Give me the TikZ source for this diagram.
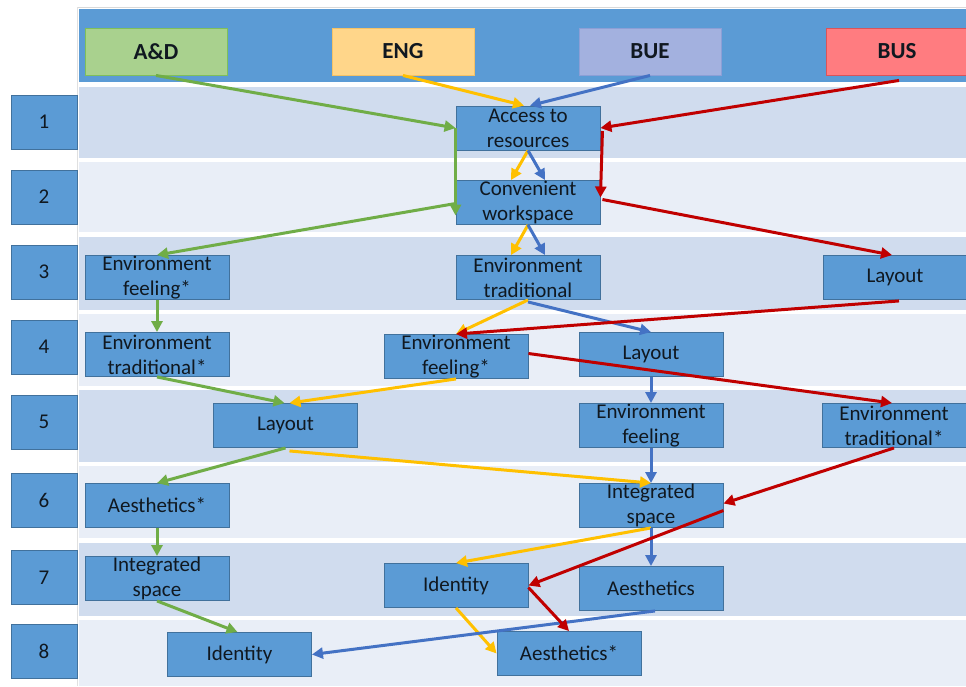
\documentclass[tikz,border=0pt]{standalone}
\usepackage{fontspec}
\setmainfont{Carlito}
\usetikzlibrary{arrows.meta,calc}

\definecolor{nodeblue}{HTML}{5B9BD5}
\definecolor{nodeedge}{HTML}{41719C}
\definecolor{banddark}{HTML}{D0DCEE}
\definecolor{bandlight}{HTML}{E9EEF7}
\definecolor{adfill}{HTML}{A9D18E}
\definecolor{adedge}{HTML}{7FBF5A}
\definecolor{engfill}{HTML}{FFD68A}
\definecolor{engedge}{HTML}{F5C266}
\definecolor{buefill}{HTML}{A3B1DF}
\definecolor{bueedge}{HTML}{8C9FD6}
\definecolor{busfill}{HTML}{FF7C80}
\definecolor{busedge}{HTML}{D9545A}
\definecolor{cgreen}{HTML}{70AD47}
\definecolor{cyellow}{HTML}{FFC000}
\definecolor{cblue}{HTML}{4472C4}
\definecolor{cred}{HTML}{C00000}
\definecolor{inktext}{HTML}{101820}

\tikzset{
  x=1pt, y=-1pt,
  stage/.style={draw=nodeedge, line width=0.9pt, fill=nodeblue, inner sep=0pt,
    minimum width=144pt, minimum height=44pt, align=center,
    font=\fontsize{21}{25}\selectfont, text=inktext},
  rownum/.style={draw=nodeedge, line width=0.9pt, fill=nodeblue, inner sep=0pt,
    minimum width=66pt, minimum height=54pt, font=\fontsize{21}{25}\selectfont,
    text=inktext},
  head/.style={line width=0.9pt, inner sep=0pt, minimum width=142pt,
    minimum height=47pt, font=\fontsize{23}{27}\selectfont\bfseries, text=inktext},
  flow/.style={line width=3pt, -{Triangle[length=11pt,width=11pt]}},
  gflow/.style={flow, draw=cgreen, fill=cgreen},
  yflow/.style={flow, draw=cyellow, fill=cyellow},
  bflow/.style={flow, draw=cblue, fill=cblue},
  rflow/.style={flow, draw=cred, fill=cred},
}

\begin{document}
\begin{tikzpicture}
\useasboundingbox (0,0) rectangle (966,686);
\fill[white] (0,0) rectangle (966,686);

% table frame and header band
\draw[black!15, line width=1pt] (78,7) -- (966,7);
\draw[black!12, line width=1pt] (77.5,7) -- (77.5,686);
\fill[nodeblue] (79,9) rectangle (966,82);

% row bands
\fill[banddark]  (79,87)  rectangle (966,158);
\fill[bandlight] (79,162) rectangle (966,232);
\fill[banddark]  (79,237) rectangle (966,310);
\fill[bandlight] (79,314) rectangle (966,386);
\fill[banddark]  (79,390) rectangle (966,462);
\fill[bandlight] (79,466) rectangle (966,538);
\fill[banddark]  (79,543) rectangle (966,616);
\fill[bandlight] (79,620) rectangle (966,686);

% discipline headers
\node[head, draw=adedge,  fill=adfill]  (hAD)  at (156,51.5) {A\&D};
\node[head, draw=engedge, fill=engfill] (hENG) at (403,51.5) {ENG};
\node[head, draw=bueedge, fill=buefill] (hBUE) at (650,51.5) {BUE};
\node[head, draw=busedge, fill=busfill] (hBUS) at (897,51.5) {BUS};

% stage numbers
\node[rownum] (r1) at (44,122)   {1};
\node[rownum] (r2) at (44,197)   {2};
\node[rownum] (r3) at (44,272)   {3};
\node[rownum] (r4) at (44,347)   {4};
\node[rownum] (r5) at (44,422)   {5};
\node[rownum] (r6) at (44,500)   {6};
\node[rownum] (r7) at (44,577.5) {7};
\node[rownum] (r8) at (44,651)   {8};

% stages
\node[stage] (acc)  at (528,128)   {Access to\\resources};
\node[stage] (conv) at (528,202.5) {Convenient\\workspace};
\node[stage] (efA)  at (157,277.5) {Environment\\feeling*};
\node[stage] (etE)  at (528,277.5) {Environment\\traditional};
\node[stage] (layS) at (895,277.5) {Layout};
\node[stage] (etA)  at (157,354.5) {Environment\\traditional*};
\node[stage] (efE)  at (456,356.5) {Environment\\feeling*};
\node[stage] (layB) at (651,354.5) {Layout};
\node[stage] (layA) at (285.5,425.5) {Layout};
\node[stage] (efB)  at (651,425.5) {Environment\\feeling};
\node[stage] (etS)  at (894,425.5) {Environment\\traditional*};
\node[stage] (aeA)  at (157,505.5) {Aesthetics*};
\node[stage] (isB)  at (651,505.5) {Integrated\\space};
\node[stage] (isA)  at (157,578.5) {Integrated\\space};
\node[stage] (idE)  at (456,585.5) {Identity};
\node[stage] (aeB)  at (651,588.5) {Aesthetics};
\node[stage] (idA)  at (239.5,654.5) {Identity};
\node[stage] (aeE)  at (569,653.5) {Aesthetics*};

% A&D path
\draw[gflow] (hAD.south) -- (acc.west);
\draw[gflow] (acc.west) -- ($(conv.west)+(0,13)$);
\draw[gflow] ($(conv.west)+(0,1)$) -- (efA.north);
\draw[gflow] (efA.south) -- (etA.north);
\draw[gflow] (etA.south) -- ($(layA.north)+(-1,0)$);
\draw[gflow] (layA.south) -- (aeA.north);
\draw[gflow] (aeA.south) -- (isA.north);
\draw[gflow] (isA.south) -- ($(idA.north)+(-2,0)$);

% ENG path
\draw[yflow] (hENG.south) -- ($(acc.north)+(-4,0)$);
\draw[yflow] (acc.south) -- ($(conv.north)+(-17,0)$);
\draw[yflow] (conv.south) -- ($(etE.north)+(-17,0)$);
\draw[yflow] (etE.south) -- (efE.north);
\draw[yflow] (efE.south) -- ($(layA.north)+(4,0)$);
\draw[yflow] ($(layA.south)+(4,3)$) -- (isB.north);
\draw[yflow] (isB.south) -- (idE.north);
\draw[yflow] (idE.south) -- (aeE.west);

% BUE path
\draw[bflow] (hBUE.south) -- ($(acc.north)+(2,0)$);
\draw[bflow] (acc.south) -- ($(conv.north)+(17,0)$);
\draw[bflow] (conv.south) -- ($(etE.north)+(17,0)$);
\draw[bflow] ($(etE.south)+(0,2)$) -- (layB.north);
\draw[bflow] (layB.south) -- (efB.north);
\draw[bflow] (efB.south) -- (isB.north);
\draw[bflow] (isB.south) -- (aeB.north);
\draw[bflow] ($(aeB.south)+(4,0)$) -- (idA.east);

% BUS path
\draw[rflow] ($(hBUS.south)+(2,5)$) -- (acc.east);
\draw[rflow] ($(acc.east)+(2,3)$) -- ($(conv.east)+(0,-5)$);
\draw[rflow] ($(conv.east)+(2,-3)$) -- ($(layS.north)+(-3,0)$);
\draw[rflow] ($(layS.south)+(4,1)$) -- (efE.north);
\draw[rflow] ($(efE.east)+(0,-3)$) -- ($(etS.north)+(-2,0)$);
\draw[rflow] (etS.south) -- ($(isB.east)+(0,-2)$);
\draw[rflow] ($(isB.east)+(0,5)$) -- (idE.east);
\draw[rflow] ($(idE.east)+(0,2)$) -- (aeE.north);
\end{tikzpicture}
\end{document}
